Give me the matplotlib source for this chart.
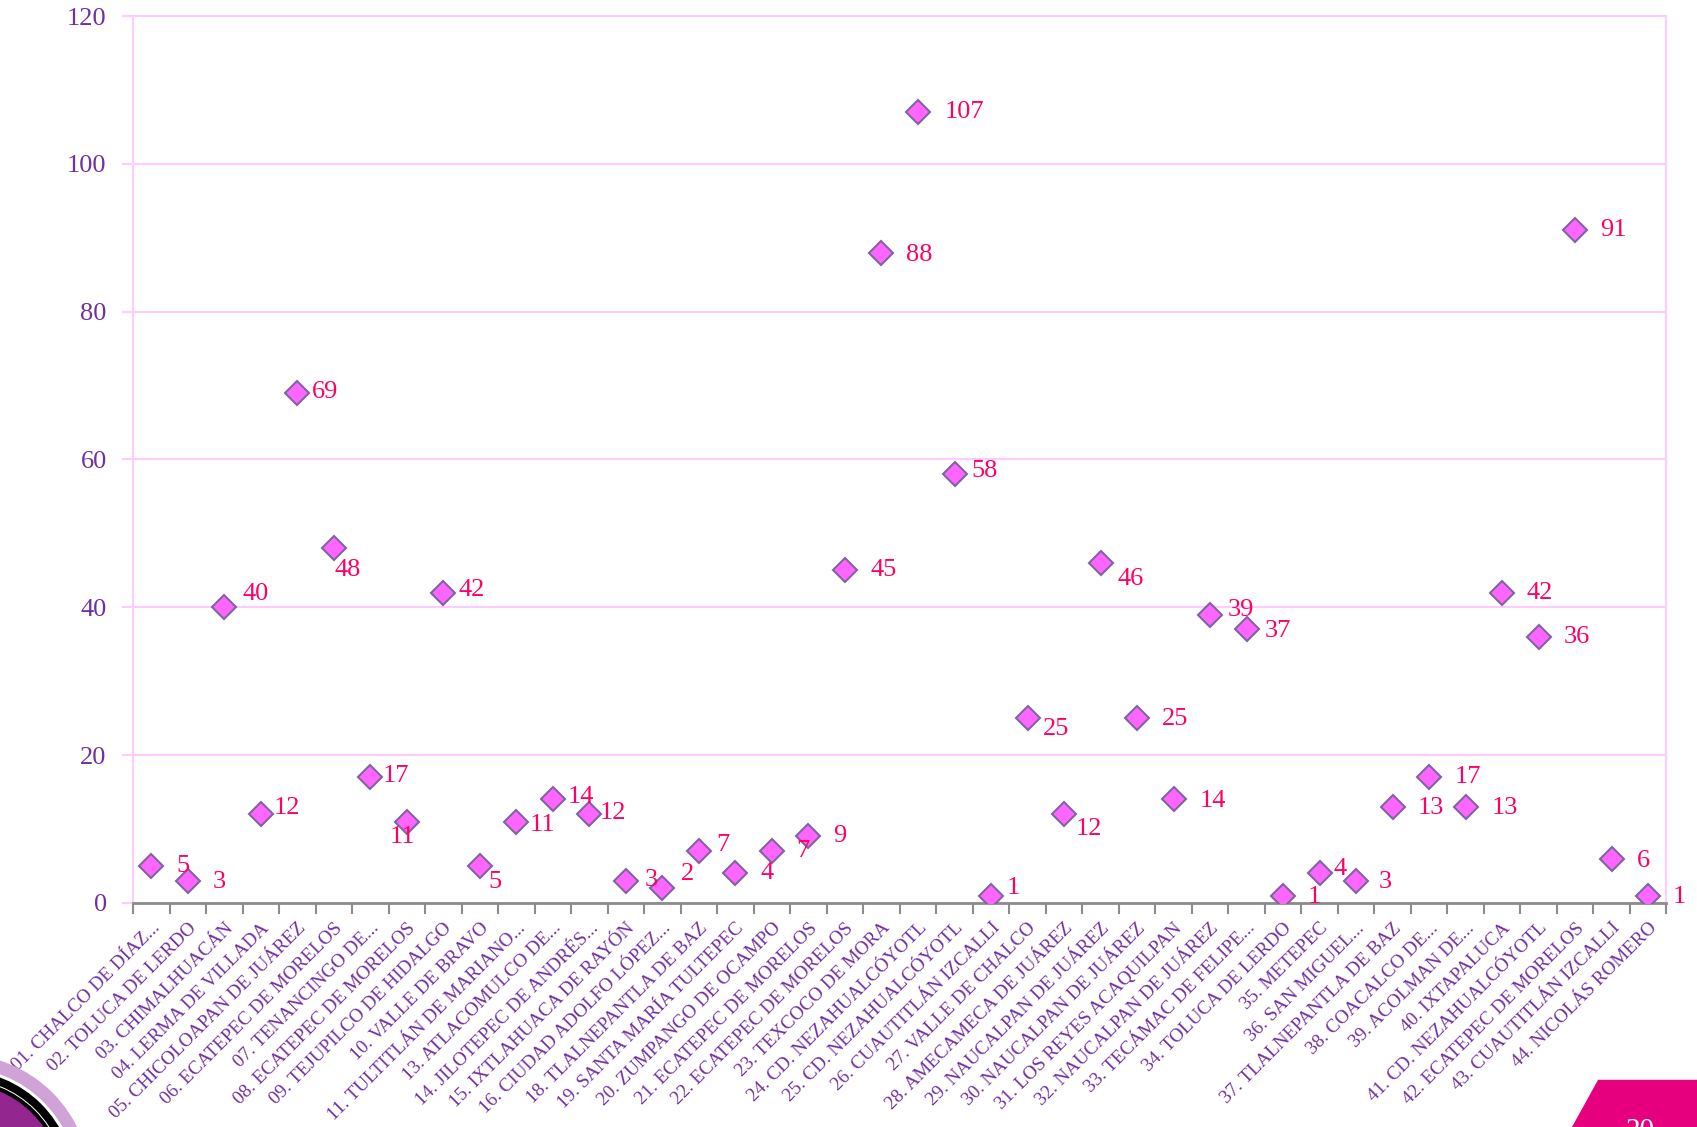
import matplotlib
matplotlib.use("Agg")
import matplotlib.pyplot as plt
import matplotlib.transforms as mtransforms
from matplotlib.patches import Polygon, Circle

# municipios (eje x) y valores
municipios = [
    "01. CHALCO DE DÍAZ...", "02. TOLUCA DE LERDO", "03. CHIMALHUACÁN",
    "04. LERMA DE VILLADA", "05. CHICOLOAPAN DE JUÁREZ", "06. ECATEPEC DE MORELOS",
    "07. TENANCINGO DE...", "08. ECATEPEC DE MORELOS", "09. TEJUPILCO DE HIDALGO",
    "10. VALLE DE BRAVO", "11. TULTITLÁN DE MARIANO...", "13. ATLACOMULCO DE...",
    "14. JILOTEPEC DE ANDRÉS...", "15. IXTLAHUACA DE RAYÓN", "16. CIUDAD ADOLFO LÓPEZ...",
    "18. TLALNEPANTLA DE BAZ", "19. SANTA MARÍA TULTEPEC", "20. ZUMPANGO DE OCAMPO",
    "21. ECATEPEC DE MORELOS", "22. ECATEPEC DE MORELOS", "23. TEXCOCO DE MORA",
    "24. CD. NEZAHUALCÓYOTL", "25. CD. NEZAHUALCÓYOTL", "26. CUAUTITLÁN IZCALLI",
    "27. VALLE DE CHALCO", "28. AMECAMECA DE JUÁREZ", "29. NAUCALPAN DE JUÁREZ",
    "30. NAUCALPAN DE JUÁREZ", "31. LOS REYES ACAQUILPAN", "32. NAUCALPAN DE JUÁREZ",
    "33. TECÁMAC DE FELIPE...", "34. TOLUCA DE LERDO", "35. METEPEC",
    "36. SAN MIGUEL...", "37. TLALNEPANTLA DE BAZ", "38. COACALCO DE...",
    "39. ACOLMAN DE...", "40. IXTAPALUCA", "41. CD. NEZAHUALCÓYOTL",
    "42. ECATEPEC DE MORELOS", "43. CUAUTITLÁN IZCALLI", "44. NICOLÁS ROMERO",
]
valores = [5, 3, 40, 12, 69, 48, 17, 11, 42, 5, 11, 14, 12, 3, 2, 7, 4, 7, 9, 45, 88,
           107, 58, 1, 25, 12, 46, 25, 14, 39, 37, 1, 4, 3, 13, 17, 13, 42, 36, 91, 6, 1]

# desplazamiento de cada etiqueta (px, x derecha / y abajo)
desp = [(29, 0), (29, 1), (29, -12), (24, -6), (26, -1), (13, 20), (24, -1), (-4, 14),
        (26, -2), (14, 15), (24, 3), (26, -2), (22, -1), (23, -1), (23, -13), (22, -6),
        (29, 0), (29, 0), (29, 0), (36, 0), (35, 2), (43, 0), (28, -3), (21, -7),
        (26, 10), (23, 14), (28, 15), (35, 1), (36, 1), (28, -4), (29, 1), (29, 1),
        (19, -4), (27, 1), (35, 1), (36, 0), (36, 1), (35, 0), (35, 0), (35, 0),
        (29, 2), (29, 1)]

morado = "#7030A0"
rosa = "#FF0066"
grid_rosa = "#FFCCFF"
serif = "Liberation Serif"

fig = plt.figure(figsize=(16.97, 11.27), dpi=100)
ax = fig.add_axes([0.0784, 0.1988, 0.9036, 0.787])

x = list(range(len(valores)))
ax.plot(x, valores, linestyle="none", marker="D", markersize=12,
        markerfacecolor="#FF66FF", markeredgecolor="#8064A2", markeredgewidth=1.5, zorder=3)

for xi, v, (dx, dy) in zip(x, valores, desp):
    ax.annotate(str(v), (xi, v), xytext=(dx * 1.082, -dy * 1.082), textcoords="offset pixels",
                ha="center", va="center", color=rosa, fontsize=19, family=serif,
                annotation_clip=False)

ax.set_xlim(-0.5, len(valores) - 0.5)
ax.set_ylim(0, 120)
ax.set_yticks(range(0, 121, 20))
ax.yaxis.grid(True, color=grid_rosa, linewidth=1.5)
ax.set_axisbelow(True)

ax.set_xticks(x)
ax.set_xticklabels(municipios, rotation=45, ha="right", va="top", rotation_mode="anchor",
                   color=morado, fontsize=13.8, family=serif)
corrimiento = mtransforms.ScaledTranslation(0.08, 0, fig.dpi_scale_trans)
for lab in ax.get_xticklabels():
    lab.set_transform(lab.get_transform() + corrimiento)
ax.set_xticks([i + 0.5 for i in range(-1, len(valores))], minor=True)
ax.tick_params(axis="x", which="major", length=0, pad=12)
ax.tick_params(axis="x", which="minor", length=8, width=1.5, color="#8C8C8C")
ax.tick_params(axis="y", length=8, width=1.5, color=grid_rosa, pad=11,
               labelcolor=morado, labelsize=19)
for lab in ax.get_yticklabels():
    lab.set_family(serif)

for s in ["left", "right", "top"]:
    ax.spines[s].set_color(grid_rosa)
    ax.spines[s].set_linewidth(1.5)
ax.spines["bottom"].set_color("#8C8C8C")
ax.spines["bottom"].set_linewidth(2)

# decoracion de la diapositiva (en pulgadas desde abajo a la izquierda)
H = 1127
tr = fig.dpi_scale_trans

def pin(px, py):
    return (px / 100, (H - py) / 100)

fig.patches.append(Polygon([pin(1598, 1080), pin(1697, 1080), pin(1697, 1127), pin(1572, 1127)],
                           closed=True, transform=tr, color="#E6007E"))
fig.text(1640 / 1697, 1 - 1118 / H, "20", color="white", fontsize=21, ha="center", va="top",
         family=serif)

for r, c in [(130, "#CFA3D6"), (117, "white"), (114, "black"), (106, "white"),
             (105, "black"), (101, "#93278F")]:
    fig.patches.append(Circle(pin(-40, 1185), r / 100, transform=tr, color=c, clip_on=False))

fig.savefig("out.png", dpi=100)
